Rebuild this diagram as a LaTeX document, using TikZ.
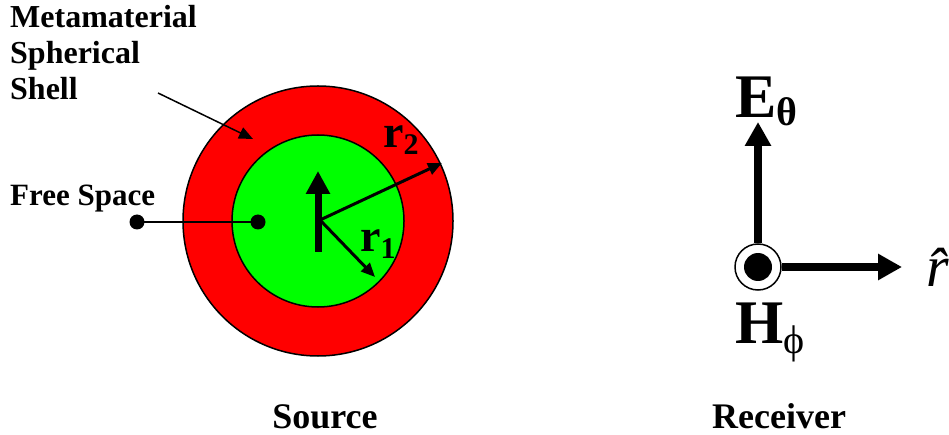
\documentclass[tikz,border=0pt]{standalone}
\usepackage{fontspec}
\setmainfont{Liberation Serif}
\usetikzlibrary{arrows.meta}
\definecolor{shellred}{RGB}{255,0,0}
\definecolor{coregreen}{RGB}{0,255,0}
\tikzset{
  lbl/.style={inner sep=0pt, font=\bfseries},
  thin/.style={line width=1.5pt},
  fatarrow/.style={line width=8pt, -{Triangle[length=24pt,width=25pt]}},
  radarrow/.style={line width=3pt, -{Triangle[length=14pt,width=12pt]}},
  ptr/.style={line width=1.5pt, -{Triangle[length=14pt,width=12pt]}},
}
\begin{document}
\begin{tikzpicture}[x=1pt,y=-1pt]
\useasboundingbox (0,0) rectangle (949,435);
% source
\node[draw, thin, circle, fill=shellred, minimum size=270pt, inner sep=0pt] (outer) at (318,221) {};
\node[draw, thin, circle, fill=coregreen, minimum size=172pt, inner sep=0pt] (inner) at (318,221) {};
\coordinate (c) at (320,220);
\coordinate (dipb) at (318,252);
\coordinate (dipt) at (318,171);
\draw[line width=7pt, -{Triangle[length=23pt,width=23pt]}] (dipb) -- (dipt);
\coordinate (r2e) at (442,163);
\coordinate (r1e) at (375,277);
\draw[radarrow] (c) -- (r2e);
\draw[radarrow] (c) -- (r1e);
\node[lbl, anchor=base west] (r2) at (383,148) {\fontsize{46}{46}\selectfont r\raisebox{-7pt}{\fontsize{30}{30}\selectfont 2}};
\node[lbl, anchor=base west] (r1) at (360,252) {\fontsize{46}{46}\selectfont r\raisebox{-6pt}{\fontsize{30}{30}\selectfont 1}};
% labels left
\node[lbl, anchor=base west] (mm1) at (10,28) {\fontsize{32}{36}\selectfont Metamaterial};
\node[lbl, anchor=base west] (mm2) at (10,64) {\fontsize{32}{36}\selectfont Spherical};
\node[lbl, anchor=base west] (mm3) at (10,100) {\fontsize{32}{36}\selectfont Shell};
\coordinate (ptrs) at (158,93);
\coordinate (ptre) at (253,139);
\draw[ptr] (ptrs) -- (ptre);
\node[lbl, anchor=base west] (fs) at (10,206) {\fontsize{31}{36}\selectfont Free Space};
\node[circle, fill=black, minimum size=15pt, inner sep=0pt] (d1) at (137,222) {};
\node[circle, fill=black, minimum size=15pt, inner sep=0pt] (d2) at (258,222) {};
\draw[thin] (d1.center) -- (d2.center);
% receiver
\node[draw, thin, circle, fill=white, minimum size=46pt, inner sep=0pt] (rc) at (758,267) {};
\node[circle, fill=black, minimum size=28pt, inner sep=0pt] (rd) at (758,267) {};
\coordinate (etip) at (758,122);
\coordinate (rtip) at (902,267);
\draw[fatarrow] (rc.north) -- (etip);
\draw[fatarrow] (rc.east) -- (rtip);
\node[lbl, anchor=base west] (E) at (735,118) {\fontsize{62}{62}\selectfont E\raisebox{-8pt}{\fontsize{40}{40}\selectfont θ}};
\node[lbl, anchor=base west] (H) at (735,343) {\fontsize{62}{62}\selectfont H\raisebox{-10pt}{\fontsize{40}{40}\selectfont\mdseries ϕ}};
\node[inner sep=0pt, anchor=base west] (rhat) at (926,287) {\fontsize{58}{58}\selectfont\itshape \^{r}};
% captions
\node[lbl, anchor=base] (src) at (325,428) {\fontsize{36}{40}\selectfont Source};
\node[lbl, anchor=base] (rcv) at (779,428) {\fontsize{36}{40}\selectfont Receiver};
\end{tikzpicture}
\end{document}
